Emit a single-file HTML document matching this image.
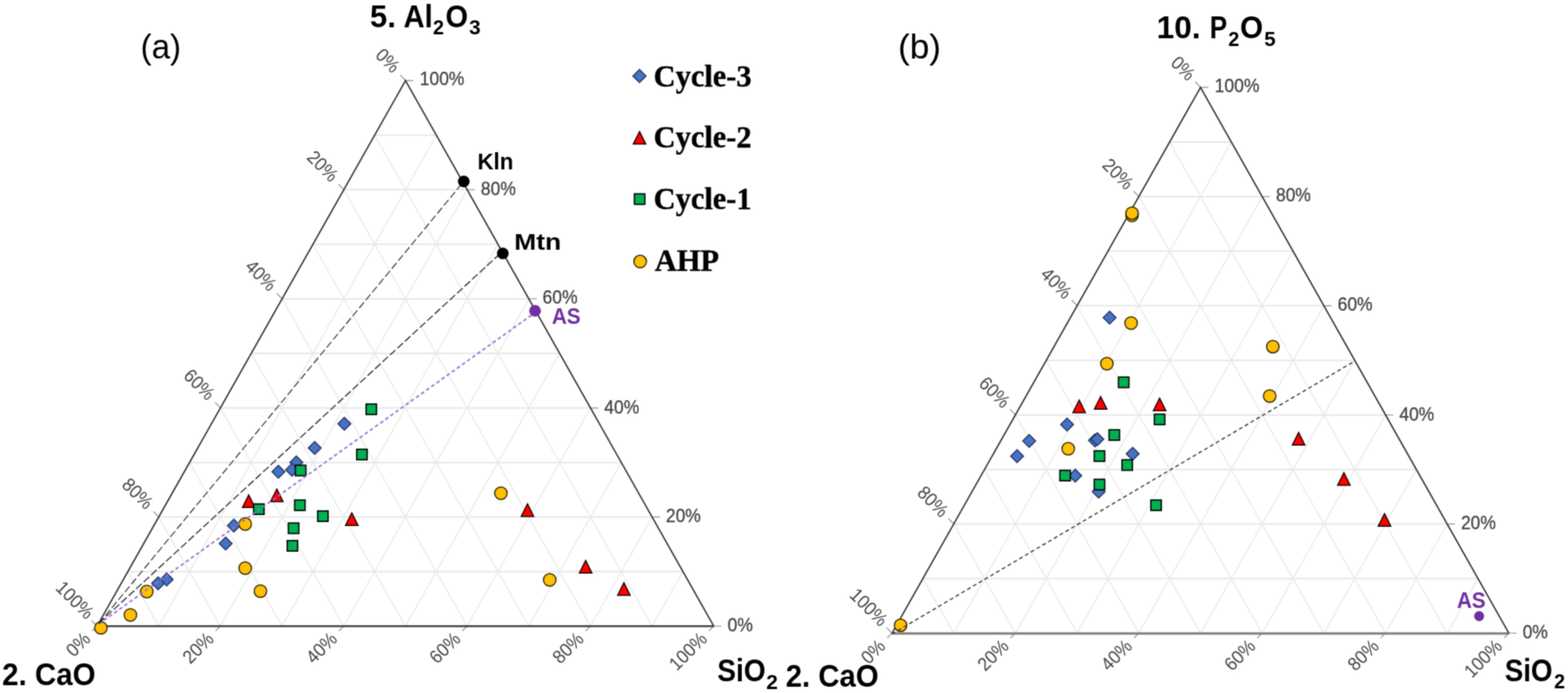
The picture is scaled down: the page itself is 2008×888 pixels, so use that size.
<!DOCTYPE html>
<html lang="en"><head><meta charset="utf-8"><title>Ternary plots</title>
<style>html,body{margin:0;padding:0;background:#fff}svg{display:block}</style></head><body>
<svg width="2008" height="888" viewBox="0 0 2008 888">
<defs><filter id="soft" x="0" y="0" width="2008" height="888" filterUnits="userSpaceOnUse" color-interpolation-filters="sRGB"><feConvolveMatrix order="3" kernelMatrix="0.04 0.12 0.04 0.12 0.36 0.12 0.04 0.12 0.04" divisor="1" edgeMode="duplicate" preserveAlpha="true"/></filter></defs>
<rect width="2008" height="888" fill="#fff"/>
<g style="filter:url(#soft)">
<rect x="-5" y="-5" width="2018" height="898" fill="#fff"/>
<g>
<path d="M203.19 802.35L558.78 173.21M835.11 802.35L479.79 173.21M282.18 802.35L598.26 243.11M756.12 802.35L440.28 243.11M361.17 802.35L637.74 313.01M677.13 802.35L400.77 313.01M440.16 802.35L677.22 382.92M598.14 802.35L361.26 382.92M519.15 802.35L716.70 452.83M519.15 802.35L321.75 452.83M598.14 802.35L756.18 522.73M440.16 802.35L282.24 522.73M677.13 802.35L795.66 592.63M361.17 802.35L242.73 592.63M756.12 802.35L835.14 662.54M282.18 802.35L203.22 662.54M835.11 802.35L874.62 732.45M203.19 802.35L163.71 732.45" fill="none" stroke="#eeeeee" stroke-width="2.0"/>
<path d="M163.71 732.45L874.62 732.45M203.22 662.54L835.14 662.54M242.73 592.63L795.66 592.63M282.24 522.73L756.18 522.73M321.75 452.82L716.70 452.82M361.26 382.92L677.22 382.92M400.77 313.01L637.74 313.01M440.28 243.11L598.26 243.11M479.79 173.20L558.78 173.20" fill="none" stroke="#e8e8e8" stroke-width="2.0"/>
<path d="M914.10 802.35h10M519.30 103.30l-6.80 -7.20M124.20 802.35l-6.20 6.20M835.14 662.54h10M440.28 243.11l-6.80 -7.20M282.18 802.35l-6.20 6.20M756.18 522.73h10M361.26 382.92l-6.80 -7.20M440.16 802.35l-6.20 6.20M677.22 382.92h10M282.24 522.73l-6.80 -7.20M598.14 802.35l-6.20 6.20M598.26 243.11h10M203.22 662.54l-6.80 -7.20M756.12 802.35l-6.20 6.20M519.30 103.30h10M124.20 802.35l-6.80 -7.20M914.10 802.35l-6.20 6.20" fill="none" stroke="#9c9c9c" stroke-width="1.4"/>
<path d="M124.2 802.35L914.1 802.35" fill="none" stroke="#303030" stroke-width="2.3"/>
<path d="M124.2 802.35L519.3 103.3L914.1 802.35" fill="none" stroke="#303030" stroke-width="1.8" stroke-linejoin="miter"/>
<g font-family="'Liberation Sans', Arial, sans-serif" font-size="24.6" fill="#444444" stroke="#444444" stroke-width="0.35">
<text transform="translate(931.70 809.05) scale(0.91 1)">0%</text>
<text transform="translate(502.30 94.80) rotate(45) scale(0.92 1)" font-size="24.2" stroke="none" text-anchor="end">0%</text>
<text transform="translate(117.20 820.35) rotate(-45) scale(0.92 1)" font-size="24.2" stroke="none" text-anchor="end">0%</text>
<text transform="translate(852.74 669.44) scale(0.91 1)">20%</text>
<text transform="translate(423.28 234.61) rotate(45) scale(0.92 1)" font-size="24.2" stroke="none" text-anchor="end">20%</text>
<text transform="translate(275.18 820.35) rotate(-45) scale(0.92 1)" font-size="24.2" stroke="none" text-anchor="end">20%</text>
<text transform="translate(773.78 529.63) scale(0.91 1)">40%</text>
<text transform="translate(344.26 374.42) rotate(45) scale(0.92 1)" font-size="24.2" stroke="none" text-anchor="end">40%</text>
<text transform="translate(433.16 820.35) rotate(-45) scale(0.92 1)" font-size="24.2" stroke="none" text-anchor="end">40%</text>
<text transform="translate(694.82 389.42) scale(0.91 1)">60%</text>
<text transform="translate(265.24 514.23) rotate(45) scale(0.92 1)" font-size="24.2" stroke="none" text-anchor="end">60%</text>
<text transform="translate(591.14 820.35) rotate(-45) scale(0.92 1)" font-size="24.2" stroke="none" text-anchor="end">60%</text>
<text transform="translate(615.86 249.51) scale(0.91 1)">80%</text>
<text transform="translate(186.22 654.04) rotate(45) scale(0.92 1)" font-size="24.2" stroke="none" text-anchor="end">80%</text>
<text transform="translate(749.12 820.35) rotate(-45) scale(0.92 1)" font-size="24.2" stroke="none" text-anchor="end">80%</text>
<text transform="translate(537.50 109.30) scale(0.91 1)">100%</text>
<text transform="translate(110.20 794.65) rotate(45) scale(0.92 1)" font-size="24.2" stroke="none" text-anchor="end">100%</text>
<text transform="translate(907.10 820.35) rotate(-45) scale(0.92 1)" font-size="24.2" stroke="none" text-anchor="end">100%</text>
</g>
</g>
<path d="M441 534.8L449.2 543L441 551.2L432.8 543Z" fill="#4472C4" stroke="#23345e" stroke-width="1.5"/>
<path d="M403 565.8L411.2 574L403 582.2L394.8 574Z" fill="#4472C4" stroke="#23345e" stroke-width="1.5"/>
<path d="M379.5 584.3L387.7 592.5L379.5 600.7L371.3 592.5Z" fill="#4472C4" stroke="#23345e" stroke-width="1.5"/>
<path d="M374 593.8L382.2 602L374 610.2L365.8 602Z" fill="#4472C4" stroke="#23345e" stroke-width="1.5"/>
<path d="M356.5 596.3L364.7 604.5L356.5 612.7L348.3 604.5Z" fill="#4472C4" stroke="#23345e" stroke-width="1.5"/>
<path d="M299.5 665.3L307.7 673.5L299.5 681.7L291.3 673.5Z" fill="#4472C4" stroke="#23345e" stroke-width="1.5"/>
<path d="M289 688.3L297.2 696.5L289 704.7L280.8 696.5Z" fill="#4472C4" stroke="#23345e" stroke-width="1.5"/>
<path d="M213.5 734.3L221.7 742.5L213.5 750.7L205.3 742.5Z" fill="#4472C4" stroke="#23345e" stroke-width="1.5"/>
<path d="M202.5 739.3L210.7 747.5L202.5 755.7L194.3 747.5Z" fill="#4472C4" stroke="#23345e" stroke-width="1.5"/>
<path d="M318.5 634.20L326.5 650.20L310.5 650.20Z" fill="#FF0000" stroke="#120000" stroke-width="1.5" stroke-linejoin="miter"/>
<path d="M354.5 626.70L362.5 642.70L346.5 642.70Z" fill="#FF0000" stroke="#120000" stroke-width="1.5" stroke-linejoin="miter"/>
<path d="M450.5 657.20L458.5 673.20L442.5 673.20Z" fill="#FF0000" stroke="#120000" stroke-width="1.5" stroke-linejoin="miter"/>
<path d="M675.5 645.70L683.5 661.70L667.5 661.70Z" fill="#FF0000" stroke="#120000" stroke-width="1.5" stroke-linejoin="miter"/>
<path d="M750 718.20L758.0 734.20L742.0 734.20Z" fill="#FF0000" stroke="#120000" stroke-width="1.5" stroke-linejoin="miter"/>
<path d="M799 746.70L807.0 762.70L791.0 762.70Z" fill="#FF0000" stroke="#120000" stroke-width="1.5" stroke-linejoin="miter"/>
<rect x="468.80" y="517.70" width="13.4" height="13.4" fill="#00B050" stroke="#000" stroke-width="1.7"/>
<rect x="456.80" y="575.70" width="13.4" height="13.4" fill="#00B050" stroke="#000" stroke-width="1.7"/>
<rect x="378.30" y="596.20" width="13.4" height="13.4" fill="#00B050" stroke="#000" stroke-width="1.7"/>
<rect x="377.30" y="640.70" width="13.4" height="13.4" fill="#00B050" stroke="#000" stroke-width="1.7"/>
<rect x="324.80" y="645.70" width="13.4" height="13.4" fill="#00B050" stroke="#000" stroke-width="1.7"/>
<rect x="406.80" y="654.70" width="13.4" height="13.4" fill="#00B050" stroke="#000" stroke-width="1.7"/>
<rect x="369.30" y="670.20" width="13.4" height="13.4" fill="#00B050" stroke="#000" stroke-width="1.7"/>
<rect x="367.80" y="692.70" width="13.4" height="13.4" fill="#00B050" stroke="#000" stroke-width="1.7"/>
<circle cx="641.5" cy="632" r="8.0" fill="#FFC000" stroke="#2e2200" stroke-width="1.5"/>
<circle cx="314" cy="671.5" r="8.0" fill="#FFC000" stroke="#2e2200" stroke-width="1.5"/>
<circle cx="314" cy="728" r="8.0" fill="#FFC000" stroke="#2e2200" stroke-width="1.5"/>
<circle cx="333.5" cy="757.5" r="8.0" fill="#FFC000" stroke="#2e2200" stroke-width="1.5"/>
<circle cx="704" cy="743" r="8.0" fill="#FFC000" stroke="#2e2200" stroke-width="1.5"/>
<circle cx="188" cy="758" r="8.0" fill="#FFC000" stroke="#2e2200" stroke-width="1.5"/>
<circle cx="167" cy="788" r="8.0" fill="#FFC000" stroke="#2e2200" stroke-width="1.5"/>
<circle cx="129.2" cy="804.6" r="8.0" fill="#FFC000" stroke="#2e2200" stroke-width="1.5"/>
<path d="M126.6 799.6L685.2 400.6" fill="none" stroke="#9c6fd2" stroke-width="2.0" stroke-dasharray="4.6 3.45"/>
<path d="M126.6 799.0L593.9 232.5" fill="none" stroke="#303030" stroke-width="1.3" stroke-dasharray="9.4 3.7"/>
<path d="M126.6 798.6L643.9 321.8" fill="none" stroke="#303030" stroke-width="1.5" stroke-dasharray="9.6 3.4"/>
<circle cx="593.9" cy="232.5" r="7.5" fill="#000"/>
<circle cx="643.9" cy="324.8" r="7.5" fill="#000"/>
<circle cx="685.2" cy="398.3" r="7.5" fill="#7030A0"/>
<g>
<path d="M1221.30 811.40L1576.89 181.94M1853.30 811.40L1497.89 181.94M1300.30 811.40L1616.38 251.88M1774.30 811.40L1458.38 251.88M1379.30 811.40L1655.87 321.82M1695.30 811.40L1418.87 321.82M1458.30 811.40L1695.36 391.76M1616.30 811.40L1379.36 391.76M1537.30 811.40L1734.85 461.70M1537.30 811.40L1339.85 461.70M1616.30 811.40L1774.34 531.64M1458.30 811.40L1300.34 531.64M1695.30 811.40L1813.83 601.58M1379.30 811.40L1260.83 601.58M1774.30 811.40L1853.32 671.52M1300.30 811.40L1221.32 671.52M1853.30 811.40L1892.81 741.46M1221.30 811.40L1181.81 741.46" fill="none" stroke="#eeeeee" stroke-width="2.0"/>
<path d="M1181.81 741.46L1892.81 741.46M1221.32 671.52L1853.32 671.52M1260.83 601.58L1813.83 601.58M1300.34 531.64L1774.34 531.64M1339.85 461.70L1734.85 461.70M1379.36 391.76L1695.36 391.76M1418.87 321.82L1655.87 321.82M1458.38 251.88L1616.38 251.88M1497.89 181.94L1576.89 181.94" fill="none" stroke="#e8e8e8" stroke-width="2.0"/>
<path d="M1932.30 811.40h10M1537.40 112.00l-6.80 -7.20M1142.30 811.40l-6.20 6.20M1853.32 671.52h10M1458.38 251.88l-6.80 -7.20M1300.30 811.40l-6.20 6.20M1774.34 531.64h10M1379.36 391.76l-6.80 -7.20M1458.30 811.40l-6.20 6.20M1695.36 391.76h10M1300.34 531.64l-6.80 -7.20M1616.30 811.40l-6.20 6.20M1616.38 251.88h10M1221.32 671.52l-6.80 -7.20M1774.30 811.40l-6.20 6.20M1537.40 112.00h10M1142.30 811.40l-6.80 -7.20M1932.30 811.40l-6.20 6.20" fill="none" stroke="#9c9c9c" stroke-width="1.4"/>
<path d="M1142.3 811.85L1932.3 811.85" fill="none" stroke="#7f7f7f" stroke-width="3.0"/>
<path d="M1142.3 811.4L1537.4 112.0L1932.3 811.4" fill="none" stroke="#303030" stroke-width="1.8" stroke-linejoin="miter"/>
<g font-family="'Liberation Sans', Arial, sans-serif" font-size="24.6" fill="#444444" stroke="#444444" stroke-width="0.35">
<text transform="translate(1949.90 818.10) scale(0.91 1)">0%</text>
<text transform="translate(1520.80 104.70) rotate(45) scale(0.92 1)" font-size="24.2" stroke="none" text-anchor="end">0%</text>
<text transform="translate(1135.30 829.40) rotate(-45) scale(0.92 1)" font-size="24.2" stroke="none" text-anchor="end">0%</text>
<text transform="translate(1870.92 678.42) scale(0.91 1)">20%</text>
<text transform="translate(1441.78 244.58) rotate(45) scale(0.92 1)" font-size="24.2" stroke="none" text-anchor="end">20%</text>
<text transform="translate(1293.30 829.40) rotate(-45) scale(0.92 1)" font-size="24.2" stroke="none" text-anchor="end">20%</text>
<text transform="translate(1791.94 538.54) scale(0.91 1)">40%</text>
<text transform="translate(1362.76 384.46) rotate(45) scale(0.92 1)" font-size="24.2" stroke="none" text-anchor="end">40%</text>
<text transform="translate(1451.30 829.40) rotate(-45) scale(0.92 1)" font-size="24.2" stroke="none" text-anchor="end">40%</text>
<text transform="translate(1712.96 398.26) scale(0.91 1)">60%</text>
<text transform="translate(1283.74 524.34) rotate(45) scale(0.92 1)" font-size="24.2" stroke="none" text-anchor="end">60%</text>
<text transform="translate(1609.30 829.40) rotate(-45) scale(0.92 1)" font-size="24.2" stroke="none" text-anchor="end">60%</text>
<text transform="translate(1633.98 258.28) scale(0.91 1)">80%</text>
<text transform="translate(1204.72 664.22) rotate(45) scale(0.92 1)" font-size="24.2" stroke="none" text-anchor="end">80%</text>
<text transform="translate(1767.30 829.40) rotate(-45) scale(0.92 1)" font-size="24.2" stroke="none" text-anchor="end">80%</text>
<text transform="translate(1555.60 118.00) scale(0.91 1)">100%</text>
<text transform="translate(1127.10 803.90) rotate(45) scale(0.92 1)" font-size="24.2" stroke="none" text-anchor="end">100%</text>
<text transform="translate(1925.30 829.40) rotate(-45) scale(0.92 1)" font-size="24.2" stroke="none" text-anchor="end">100%</text>
</g>
</g>
<path d="M1421 398.8L1429.2 407L1421 415.2L1412.8 407Z" fill="#4472C4" stroke="#23345e" stroke-width="1.5"/>
<path d="M1366.5 535.8L1374.7 544L1366.5 552.2L1358.3 544Z" fill="#4472C4" stroke="#23345e" stroke-width="1.5"/>
<path d="M1318 556.8L1326.2 565L1318 573.2L1309.8 565Z" fill="#4472C4" stroke="#23345e" stroke-width="1.5"/>
<path d="M1302.5 576.3L1310.7 584.5L1302.5 592.7L1294.3 584.5Z" fill="#4472C4" stroke="#23345e" stroke-width="1.5"/>
<path d="M1402.2 556.0999999999999L1410.4 564.3L1402.2 572.5L1394.0 564.3Z" fill="#4472C4" stroke="#23345e" stroke-width="1.5"/>
<path d="M1405.3 554.5999999999999L1413.5 562.8L1405.3 571.0L1397.1 562.8Z" fill="#4472C4" stroke="#23345e" stroke-width="1.5"/>
<path d="M1450.5 573.3L1458.7 581.5L1450.5 589.7L1442.3 581.5Z" fill="#4472C4" stroke="#23345e" stroke-width="1.5"/>
<path d="M1377 601.3L1385.2 609.5L1377 617.7L1368.8 609.5Z" fill="#4472C4" stroke="#23345e" stroke-width="1.5"/>
<path d="M1407 621.8L1415.2 630L1407 638.2L1398.8 630Z" fill="#4472C4" stroke="#23345e" stroke-width="1.5"/>
<path d="M1382 512.70L1390.0 528.70L1374.0 528.70Z" fill="#FF0000" stroke="#120000" stroke-width="1.5" stroke-linejoin="miter"/>
<path d="M1409.5 508.20L1417.5 524.20L1401.5 524.20Z" fill="#FF0000" stroke="#120000" stroke-width="1.5" stroke-linejoin="miter"/>
<path d="M1485 510.20L1493.0 526.20L1477.0 526.20Z" fill="#FF0000" stroke="#120000" stroke-width="1.5" stroke-linejoin="miter"/>
<path d="M1663 554.20L1671.0 570.20L1655.0 570.20Z" fill="#FF0000" stroke="#120000" stroke-width="1.5" stroke-linejoin="miter"/>
<path d="M1721 605.70L1729.0 621.70L1713.0 621.70Z" fill="#FF0000" stroke="#120000" stroke-width="1.5" stroke-linejoin="miter"/>
<path d="M1773 658.20L1781.0 674.20L1765.0 674.20Z" fill="#FF0000" stroke="#120000" stroke-width="1.5" stroke-linejoin="miter"/>
<rect x="1432.30" y="483.20" width="13.4" height="13.4" fill="#00B050" stroke="#000" stroke-width="1.7"/>
<rect x="1478.30" y="530.70" width="13.4" height="13.4" fill="#00B050" stroke="#000" stroke-width="1.7"/>
<rect x="1420.30" y="550.70" width="13.4" height="13.4" fill="#00B050" stroke="#000" stroke-width="1.7"/>
<rect x="1401.30" y="577.70" width="13.4" height="13.4" fill="#00B050" stroke="#000" stroke-width="1.7"/>
<rect x="1436.80" y="589.20" width="13.4" height="13.4" fill="#00B050" stroke="#000" stroke-width="1.7"/>
<rect x="1357.30" y="602.70" width="13.4" height="13.4" fill="#00B050" stroke="#000" stroke-width="1.7"/>
<rect x="1401.30" y="614.20" width="13.4" height="13.4" fill="#00B050" stroke="#000" stroke-width="1.7"/>
<rect x="1473.80" y="640.70" width="13.4" height="13.4" fill="#00B050" stroke="#000" stroke-width="1.7"/>
<circle cx="1449.7" cy="276.0" r="8.0" fill="#FFC000" stroke="#2e2200" stroke-width="1.5"/>
<circle cx="1449.7" cy="273.2" r="8.0" fill="#FFC000" stroke="#2e2200" stroke-width="1.5"/>
<circle cx="1448.5" cy="414" r="8.0" fill="#FFC000" stroke="#2e2200" stroke-width="1.5"/>
<circle cx="1630" cy="444.2" r="8.0" fill="#FFC000" stroke="#2e2200" stroke-width="1.5"/>
<circle cx="1417.5" cy="466" r="8.0" fill="#FFC000" stroke="#2e2200" stroke-width="1.5"/>
<circle cx="1626" cy="507.5" r="8.0" fill="#FFC000" stroke="#2e2200" stroke-width="1.5"/>
<circle cx="1368" cy="575" r="8.0" fill="#FFC000" stroke="#2e2200" stroke-width="1.5"/>
<circle cx="1153.3" cy="801.2" r="8.0" fill="#FFC000" stroke="#2e2200" stroke-width="1.5"/>
<path d="M1142.3 812.4L1734.3 463.0" fill="none" stroke="#3a3a3a" stroke-width="1.55" stroke-dasharray="5.0 3.6"/>
<circle cx="1894.2" cy="789.5" r="6.4" fill="#7030A0"/>
<text xml:space="preserve" font-family="'Liberation Sans', Arial, sans-serif" font-weight="bold" fill="#000"><tspan x="473.77" y="34.50" font-size="40" textLength="44.36" lengthAdjust="spacingAndGlyphs">5. </tspan><tspan x="516.87" y="34.50" font-size="40" textLength="37.38" lengthAdjust="spacingAndGlyphs">Al</tspan><tspan x="554.62" y="44.40" font-size="26.5" textLength="14.09" lengthAdjust="spacingAndGlyphs">2</tspan><tspan x="570.58" y="34.50" font-size="40" textLength="28.88" lengthAdjust="spacingAndGlyphs">O</tspan><tspan x="600.69" y="44.40" font-size="26.5" textLength="14.77" lengthAdjust="spacingAndGlyphs">3</tspan></text>
<text xml:space="preserve" font-family="'Liberation Sans', Arial, sans-serif" font-weight="bold" fill="#000"><tspan x="1481.36" y="48.90" font-size="40" textLength="67.34" lengthAdjust="spacingAndGlyphs">10. </tspan><tspan x="1549.37" y="48.90" font-size="40" textLength="22.28" lengthAdjust="spacingAndGlyphs">P</tspan><tspan x="1573.02" y="58.90" font-size="26.5" textLength="14.09" lengthAdjust="spacingAndGlyphs">2</tspan><tspan x="1587.94" y="48.90" font-size="40" textLength="29.55" lengthAdjust="spacingAndGlyphs">O</tspan><tspan x="1618.99" y="58.90" font-size="26.5" textLength="14.64" lengthAdjust="spacingAndGlyphs">5</tspan></text>
<text transform="translate(2.69 877.80) scale(0.9462 1)" font-family="'Liberation Sans', Arial, sans-serif" font-size="40" font-weight="bold" fill="#000">2. CaO</text>
<text transform="translate(1006.20 880.30) scale(0.9389 1)" font-family="'Liberation Sans', Arial, sans-serif" font-size="40" font-weight="bold" fill="#000">2. CaO</text>
<text xml:space="preserve" font-family="'Liberation Sans', Arial, sans-serif" font-weight="bold" fill="#000"><tspan x="918.56" y="873.10" font-size="40" textLength="61.95" lengthAdjust="spacingAndGlyphs">SiO</tspan><tspan x="981.37" y="882.70" font-size="26.5" textLength="14.90" lengthAdjust="spacingAndGlyphs">2</tspan></text>
<text xml:space="preserve" font-family="'Liberation Sans', Arial, sans-serif" font-weight="bold" fill="#000"><tspan x="1926.97" y="873.30" font-size="40" textLength="61.32" lengthAdjust="spacingAndGlyphs">SiO</tspan><tspan x="1990.33" y="882.30" font-size="26.5" textLength="13.98" lengthAdjust="spacingAndGlyphs">2</tspan></text>
<text transform="translate(180.07 75.20) scale(0.9430 1)" font-family="'Liberation Sans', Arial, sans-serif" font-size="45" font-weight="normal" fill="#000">(a)</text>
<text transform="translate(1149.90 75.20) scale(1.0037 1)" font-family="'Liberation Sans', Arial, sans-serif" font-size="45" font-weight="normal" fill="#000">(b)</text>
<text transform="translate(611.49 217.00) scale(0.9775 1)" font-family="'Liberation Sans', Arial, sans-serif" font-size="29.2" font-weight="bold" fill="#000">Kln</text>
<text transform="translate(658.53 319.90) scale(1.1596 1)" font-family="'Liberation Sans', Arial, sans-serif" font-size="29.2" font-weight="bold" fill="#000">Mtn</text>
<text transform="translate(706.64 414.60) scale(0.9185 1)" font-family="'Liberation Sans', Arial, sans-serif" font-size="29" font-weight="bold" fill="#7030A0">AS</text>
<text transform="translate(1865.64 779.30) scale(0.9185 1)" font-family="'Liberation Sans', Arial, sans-serif" font-size="29" font-weight="bold" fill="#7030A0">AS</text>
<path d="M818.9 89.0L827.3 97.4L818.9 105.80000000000001L810.5 97.4Z" fill="#4472C4" stroke="#23345e" stroke-width="1.5"/>
<path d="M819 168.60L827.0 184.60L811.0 184.60Z" fill="#FF0000" stroke="#120000" stroke-width="1.5" stroke-linejoin="miter"/>
<rect x="812.40" y="248.40" width="13.4" height="13.4" fill="#00B050" stroke="#000" stroke-width="1.7"/>
<circle cx="819.8" cy="335.1" r="8.1" fill="#FFC000" stroke="#2e2200" stroke-width="1.5"/>
<text x="837.00" y="111.0" font-family="'Liberation Serif', 'Times New Roman', serif" font-size="39" font-weight="bold" fill="#000" stroke="#000" stroke-width="0.45">Cycle-3</text>
<text x="837.00" y="189.2" font-family="'Liberation Serif', 'Times New Roman', serif" font-size="39" font-weight="bold" fill="#000" stroke="#000" stroke-width="0.45">Cycle-2</text>
<text x="837.00" y="268.3" font-family="'Liberation Serif', 'Times New Roman', serif" font-size="39" font-weight="bold" fill="#000" stroke="#000" stroke-width="0.45">Cycle-1</text>
<text x="838.52" y="346.8" font-family="'Liberation Serif', 'Times New Roman', serif" font-size="39" font-weight="bold" fill="#000" stroke="#000" stroke-width="0.45">AHP</text>
</g>
</svg></body></html>
